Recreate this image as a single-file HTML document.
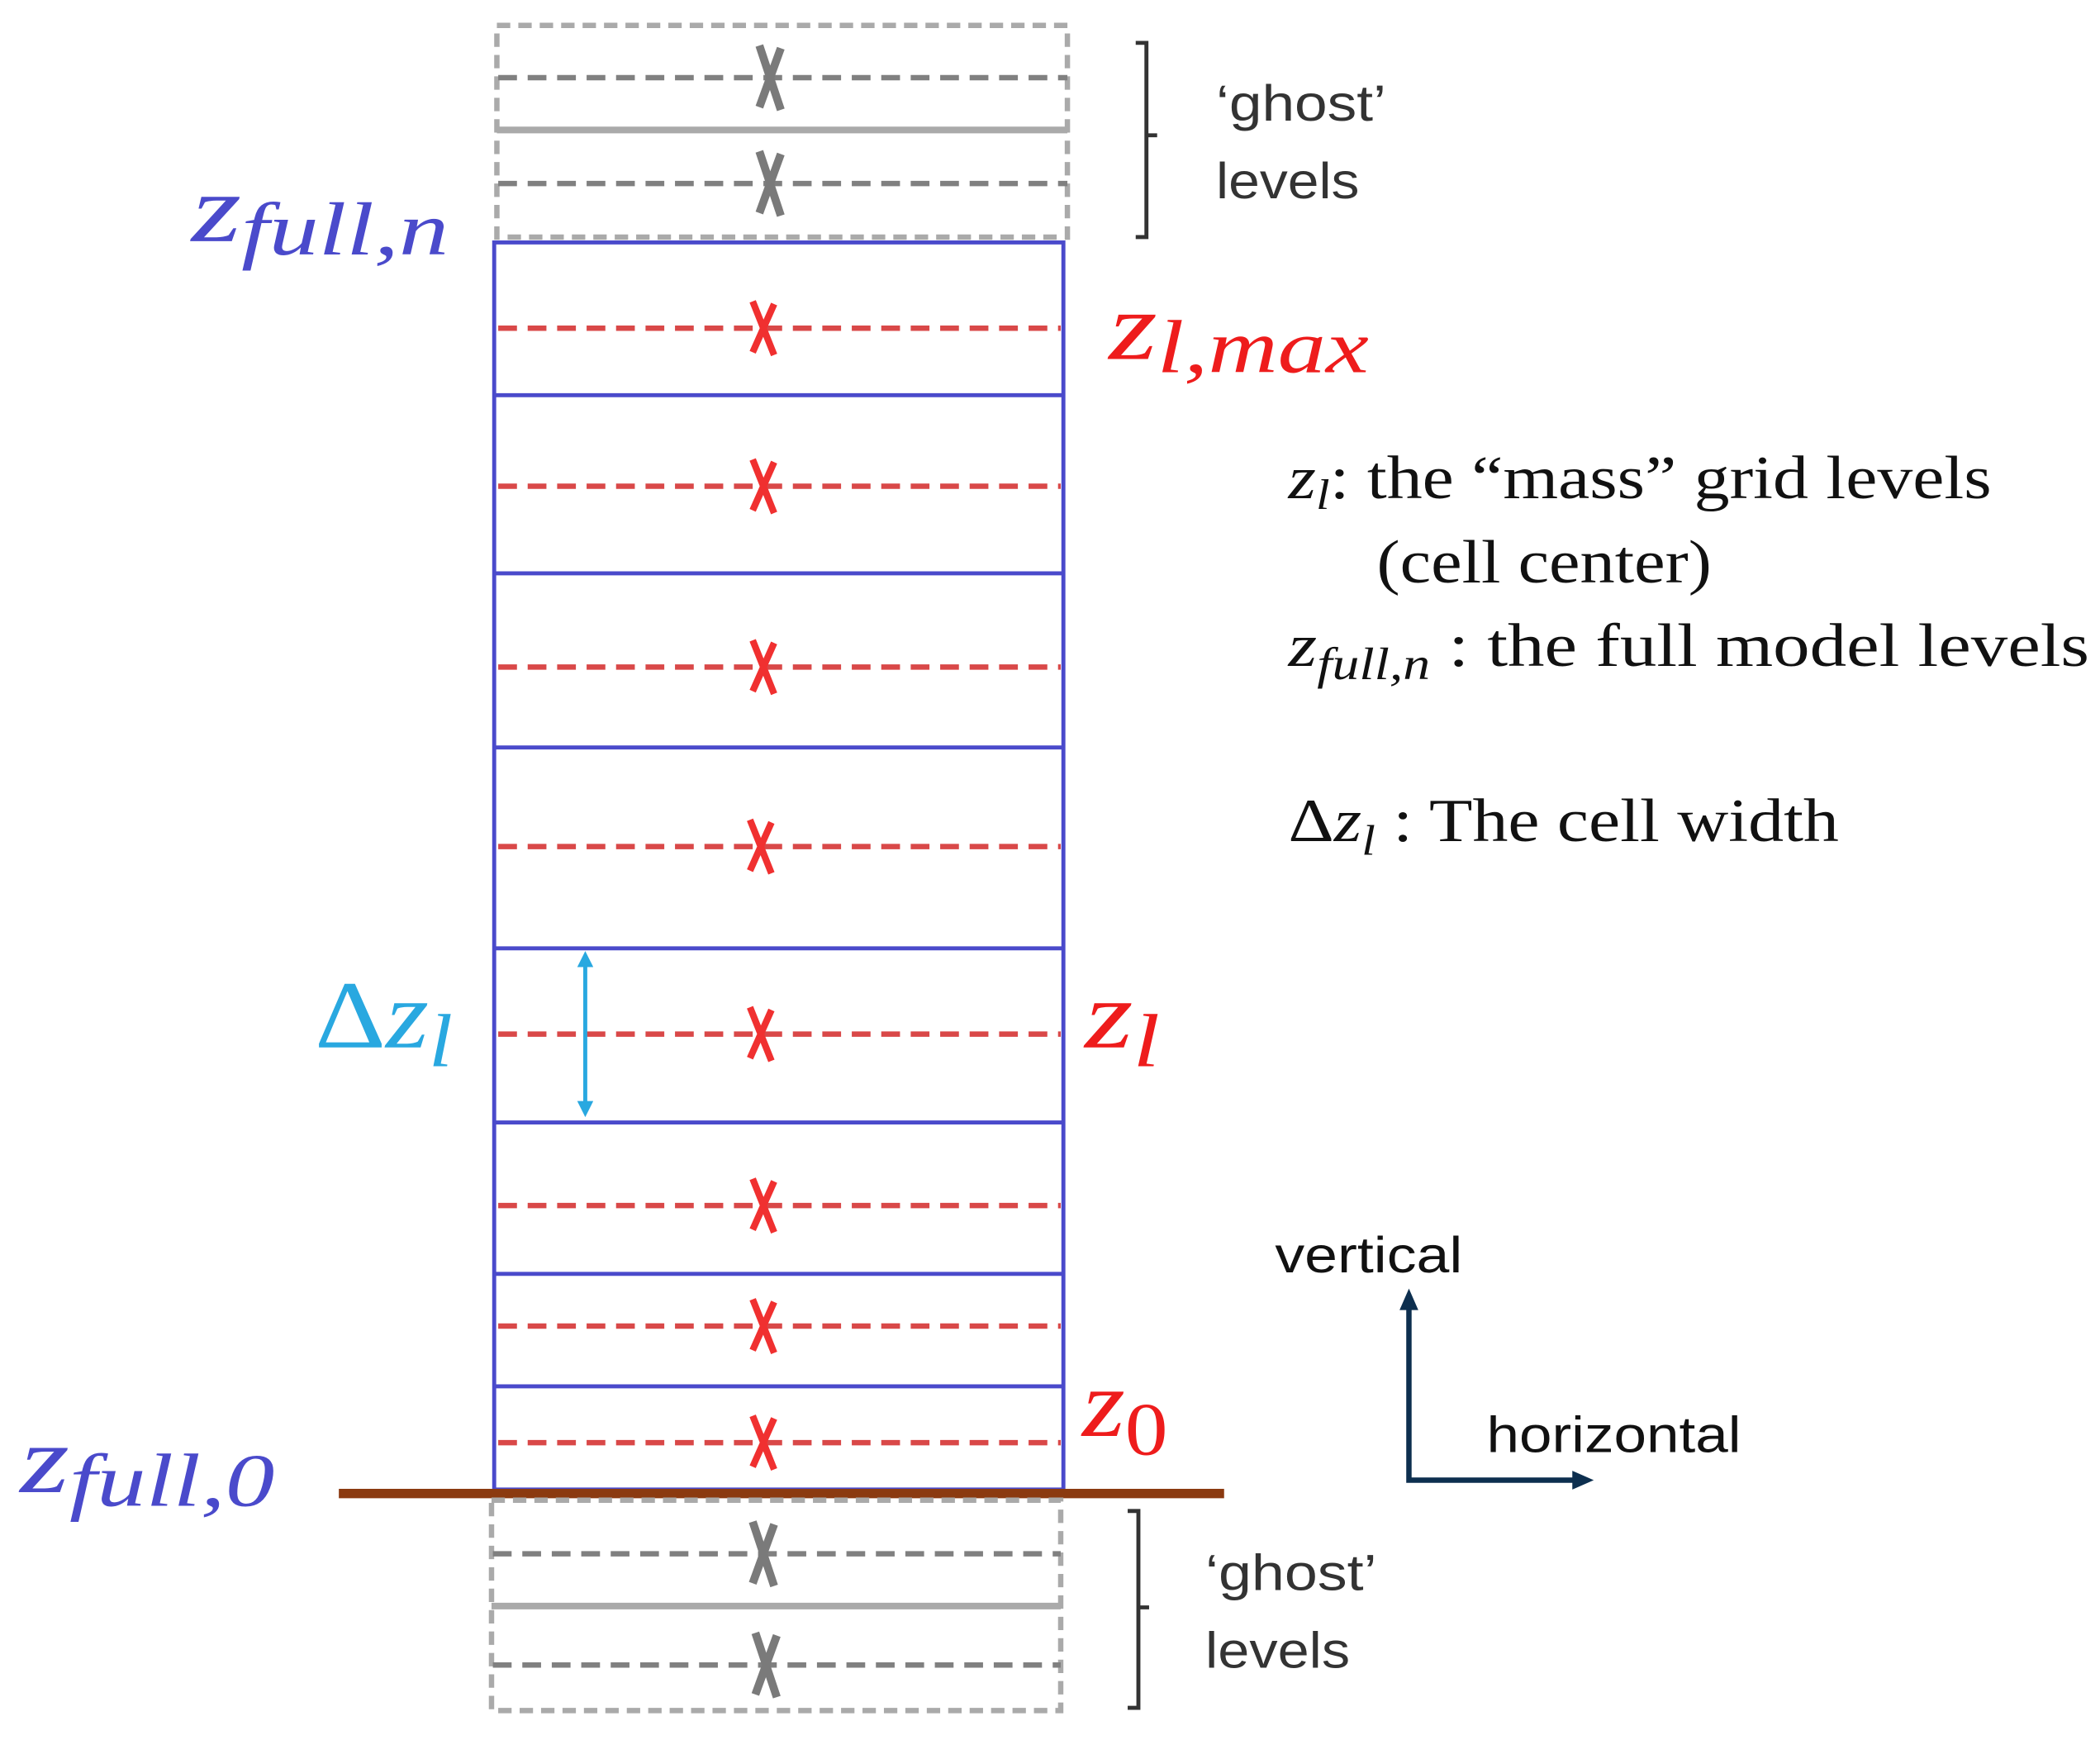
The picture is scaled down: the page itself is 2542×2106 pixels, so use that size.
<!DOCTYPE html>
<html><head><meta charset="utf-8"><style>
html,body{margin:0;padding:0;background:#fff;}
svg{display:block;}
.s{font-family:"Liberation Sans",sans-serif;}
.m{font-family:"Liberation Serif",serif;font-style:italic;}
.t{font-family:"Liberation Serif",serif;}
</style></head><body>
<svg width="2542" height="2106" viewBox="0 0 1568 1299" preserveAspectRatio="none" xmlns="http://www.w3.org/2000/svg">
<defs>
<g id="xr"><path d="M-8,-20 L8,20 M8,-18 L-8,18" stroke="#f03030" stroke-width="5" fill="none"/></g>
<g id="xg"><path d="M-8,-24 L8,24 M8,-22 L-8,22" stroke="#7a7a7a" stroke-width="6" fill="none"/></g>
<marker id="ab" markerWidth="12" markerHeight="12" refX="6" refY="6" orient="auto-start-reverse" markerUnits="userSpaceOnUse" viewBox="0 0 12 12"><path d="M0,0 L12,6 L0,12 z" fill="#29a8e0"/></marker>
</defs>
<!-- top ghost -->
<rect x="371" y="19" width="426" height="158" fill="none" stroke="#aaa" stroke-width="4" stroke-dasharray="10,6"/>
<line x1="372" y1="58" x2="797" y2="58" stroke="#808080" stroke-width="4" stroke-dasharray="14,8"/>
<line x1="372" y1="137" x2="797" y2="137" stroke="#808080" stroke-width="4" stroke-dasharray="14,8"/>
<line x1="371" y1="97" x2="797" y2="97" stroke="#aaa" stroke-width="5"/>
<use href="#xg" x="575" y="58"/><use href="#xg" x="575" y="137"/>
<path d="M848,32 H856 V177 H848 M856,101 H864" stroke="#333" stroke-width="3" fill="none"/>
<text x="908" y="90" class="s" font-size="38" fill="#333" textLength="127" lengthAdjust="spacingAndGlyphs">‘ghost’</text>
<text x="908" y="148" class="s" font-size="38" fill="#333" textLength="107" lengthAdjust="spacingAndGlyphs">levels</text>
<!-- main box -->
<rect x="369" y="181" width="425" height="931" fill="none" stroke="#4a4acb" stroke-width="3"/>
<g stroke="#4a4acb" stroke-width="3">
<line x1="369" y1="295" x2="794" y2="295"/><line x1="369" y1="428" x2="794" y2="428"/>
<line x1="369" y1="558" x2="794" y2="558"/><line x1="369" y1="708" x2="794" y2="708"/>
<line x1="369" y1="838" x2="794" y2="838"/><line x1="369" y1="951" x2="794" y2="951"/>
<line x1="369" y1="1035" x2="794" y2="1035"/>
</g>
<g stroke="#d94848" stroke-width="4" stroke-dasharray="14,8">
<line x1="372" y1="245" x2="792" y2="245"/><line x1="372" y1="363" x2="792" y2="363"/>
<line x1="372" y1="498" x2="792" y2="498"/><line x1="372" y1="632" x2="792" y2="632"/>
<line x1="372" y1="772" x2="792" y2="772"/><line x1="372" y1="900" x2="792" y2="900"/>
<line x1="372" y1="990" x2="792" y2="990"/><line x1="372" y1="1077" x2="792" y2="1077"/>
</g>
<use href="#xr" x="570" y="245"/><use href="#xr" x="570" y="363"/><use href="#xr" x="570" y="498"/>
<use href="#xr" x="568" y="632"/><use href="#xr" x="568" y="772"/><use href="#xr" x="570" y="900"/>
<use href="#xr" x="570" y="990"/><use href="#xr" x="570" y="1077"/>
<!-- ground -->
<line x1="253" y1="1115" x2="914" y2="1115" stroke="#8b3a10" stroke-width="7"/>
<!-- bottom ghost -->
<rect x="367" y="1120" width="425" height="157" fill="none" stroke="#aaa" stroke-width="4" stroke-dasharray="10,6"/>
<line x1="368" y1="1160" x2="792" y2="1160" stroke="#808080" stroke-width="4" stroke-dasharray="14,8"/>
<line x1="368" y1="1243" x2="792" y2="1243" stroke="#808080" stroke-width="4" stroke-dasharray="14,8"/>
<line x1="367" y1="1199" x2="792" y2="1199" stroke="#aaa" stroke-width="5"/>
<use href="#xg" x="570" y="1160"/><use href="#xg" x="572" y="1243"/>
<path d="M842,1128 H850 V1275 H842 M850,1200 H858" stroke="#333" stroke-width="3" fill="none"/>
<text x="900" y="1187" class="s" font-size="38" fill="#333" textLength="128" lengthAdjust="spacingAndGlyphs">‘ghost’</text>
<text x="900" y="1245" class="s" font-size="38" fill="#333" textLength="108" lengthAdjust="spacingAndGlyphs">levels</text>
<!-- delta arrow -->
<line x1="437" y1="716" x2="437" y2="828" stroke="#29a8e0" stroke-width="3" marker-start="url(#ab)" marker-end="url(#ab)"/>
<!-- labels -->
<text x="143" y="180" class="m" fill="#4a4acb" font-size="72" textLength="192" lengthAdjust="spacingAndGlyphs">z<tspan font-size="56" dy="10">full,n</tspan></text>
<text x="828" y="268" class="m" fill="#ee1c1c" font-size="72" textLength="194" lengthAdjust="spacingAndGlyphs">z<tspan font-size="56" dy="10">l,max</tspan></text>
<text x="810" y="782" class="m" fill="#ee1c1c" font-size="72" textLength="56" lengthAdjust="spacingAndGlyphs">z<tspan font-size="56" dy="14">l</tspan></text>
<text x="808" y="1072" class="m" fill="#ee1c1c" font-size="72" textLength="64" lengthAdjust="spacingAndGlyphs">z<tspan font-size="56" font-style="normal" dy="14">0</tspan></text>
<text x="235" y="782" class="m" fill="#29a8e0" font-size="72" textLength="103" lengthAdjust="spacingAndGlyphs"><tspan font-style="normal">Δ</tspan>z<tspan font-size="56" dy="14">l</tspan></text>
<text x="15" y="1114" class="m" fill="#4a4acb" font-size="72" textLength="190" lengthAdjust="spacingAndGlyphs">z<tspan font-size="56" dy="10">full,0</tspan></text>
<!-- axes -->
<path d="M1052,972 V1105 H1178" stroke="#0d2f4f" stroke-width="4" fill="none"/>
<path d="M1045,978 L1052,962 L1059,978 z M1174,1098 L1190,1105 L1174,1112 z" fill="#0d2f4f"/>
<text x="952" y="950" class="s" font-size="38" fill="#111" textLength="140" lengthAdjust="spacingAndGlyphs">vertical</text>
<text x="1110" y="1084" class="s" font-size="38" fill="#111" textLength="190" lengthAdjust="spacingAndGlyphs">horizontal</text>
<!-- legend -->
<text x="962" y="372" class="t" font-size="46" fill="#111" textLength="525" lengthAdjust="spacingAndGlyphs"><tspan font-style="italic">z</tspan><tspan font-style="italic" font-size="32" dy="8">l</tspan><tspan dy="-8">: the “mass” grid levels</tspan></text>
<text x="1028" y="435" class="t" font-size="46" fill="#111" textLength="250" lengthAdjust="spacingAndGlyphs">(cell center)</text>
<text x="962" y="497" class="t" font-size="46" fill="#111" textLength="598" lengthAdjust="spacingAndGlyphs"><tspan font-style="italic">z</tspan><tspan font-style="italic" font-size="34" dy="10">full,n</tspan><tspan dy="-10"> : the full model levels</tspan></text>
<text x="962" y="628" class="t" font-size="46" fill="#111" textLength="411" lengthAdjust="spacingAndGlyphs">Δ<tspan font-style="italic">z</tspan><tspan font-style="italic" font-size="32" dy="10">l</tspan><tspan dy="-10"> : The cell width</tspan></text>
</svg>
</body></html>
